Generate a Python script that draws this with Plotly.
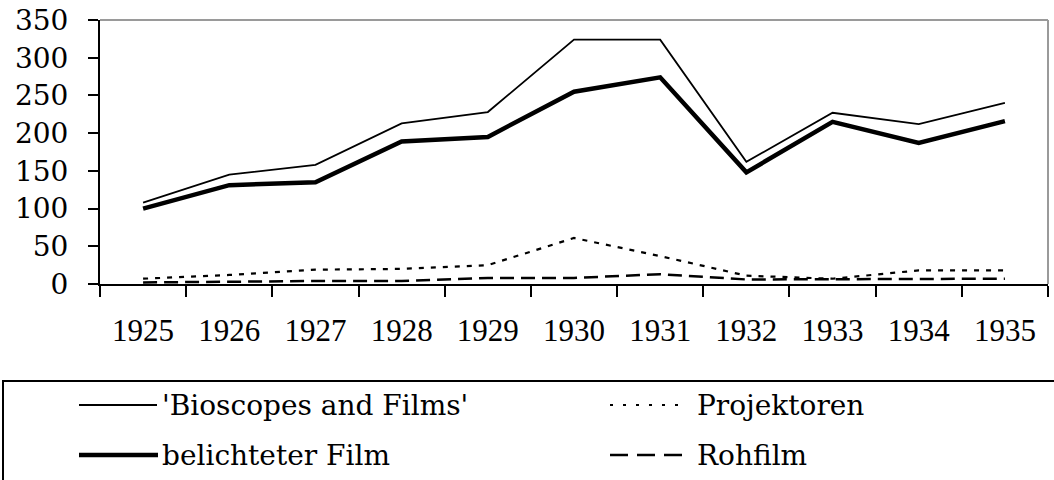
import plotly.graph_objects as go

years = ["1925", "1926", "1927", "1928", "1929", "1930", "1931", "1932", "1933", "1934", "1935"]
bioscopes = [108, 145, 158, 213, 228, 324, 324, 162, 227, 212, 240]
belichtet = [100, 131, 135, 189, 195, 255, 274, 148, 215, 187, 216]
projektoren = [7, 12, 19, 20, 25, 61, 37, 11, 7, 18, 18]
rohfilm = [2, 3, 4, 4, 8, 8, 13, 6, 6, 7, 7]

names = ["'Bioscopes and Films'", "belichteter Film", "Projektoren", "Rohfilm"]

W, H = 1054, 480
L, T = 100, 20
PW = 948
PH = 264
R = W - L - PW
B = H - T - PH


def px(x):
    return (x - L) / PW


def py(y):
    return (T + PH - y) / PH


fig = go.Figure()
fig.add_trace(go.Scatter(x=years, y=bioscopes, mode="lines", name=names[0],
                         line=dict(color="black", width=1.8), showlegend=False))
fig.add_trace(go.Scatter(x=years, y=belichtet, mode="lines", name=names[1],
                         line=dict(color="black", width=4.5), showlegend=False))
fig.add_trace(go.Scatter(x=years, y=projektoren, mode="lines", name=names[2],
                         line=dict(color="black", width=2.2, dash="5px,7px"), showlegend=False))
fig.add_trace(go.Scatter(x=years, y=rohfilm, mode="lines", name=names[3],
                         line=dict(color="black", width=2.5, dash="14px,7px"), showlegend=False))

shapes = []
# gray top and right frame
shapes.append(dict(type="line", xref="paper", yref="paper", x0=0, x1=1, y0=1, y1=1,
                   line=dict(color="#9a9a9a", width=2)))
shapes.append(dict(type="line", xref="paper", yref="paper", x0=1, x1=1, y0=0, y1=1,
                   line=dict(color="#9a9a9a", width=2)))
# legend box
shapes.append(dict(type="rect", xref="paper", yref="paper", x0=px(3), x1=px(1075),
                   y0=py(500), y1=py(381), line=dict(color="black", width=2),
                   fillcolor="rgba(0,0,0,0)"))

legend_items = [
    (names[0], 79, 157, 405, dict(color="black", width=1.8)),
    (names[1], 79, 158, 455, dict(color="black", width=4.5)),
    (names[2], 610, 686, 405, dict(color="black", width=2, dash="3px,10px")),
    (names[3], 610, 684, 455, dict(color="black", width=2.5, dash="18px,9px")),
]
text_x = {names[0]: 162, names[1]: 162, names[2]: 697, names[3]: 697}
annotations = []
for name, x0, x1, yy, ln in legend_items:
    shapes.append(dict(type="line", xref="paper", yref="paper", x0=px(x0), x1=px(x1),
                       y0=py(yy), y1=py(yy), line=ln))
    annotations.append(dict(text=name, xref="paper", yref="paper", x=px(text_x[name]),
                            y=py(yy), xanchor="left", yanchor="middle", showarrow=False,
                            xshift=-2,
                            font=dict(family="DejaVu Serif", size=28, color="black")))

fig.update_layout(
    width=W, height=H,
    margin=dict(l=L, r=R, t=T, b=B, pad=0, autoexpand=False),
    plot_bgcolor="white", paper_bgcolor="white",
    shapes=shapes, annotations=annotations,
    showlegend=False,
)
fig.update_xaxes(
    type="category", range=[-0.5, 10.5], tickson="boundaries",
    showline=True, linecolor="black", linewidth=2,
    ticks="outside", ticklen=11, tickwidth=2, tickcolor="black",
    showgrid=False, zeroline=False,
    tickfont=dict(family="Liberation Serif", size=31, color="black"),
    ticklabelstandoff=18,
)
fig.update_yaxes(
    range=[0, 350], dtick=50, tick0=0,
    showline=True, linecolor="black", linewidth=2,
    ticks="outside", ticklen=10, tickwidth=2, tickcolor="black",
    showgrid=False, zeroline=False,
    tickfont=dict(family="DejaVu Serif", size=28, color="black"),
    ticklabelstandoff=14,
)

fig.write_html("out.html", config={"displayModeBar": False},
               post_script="document.body.style.margin='0';document.body.style.overflow='hidden';")
